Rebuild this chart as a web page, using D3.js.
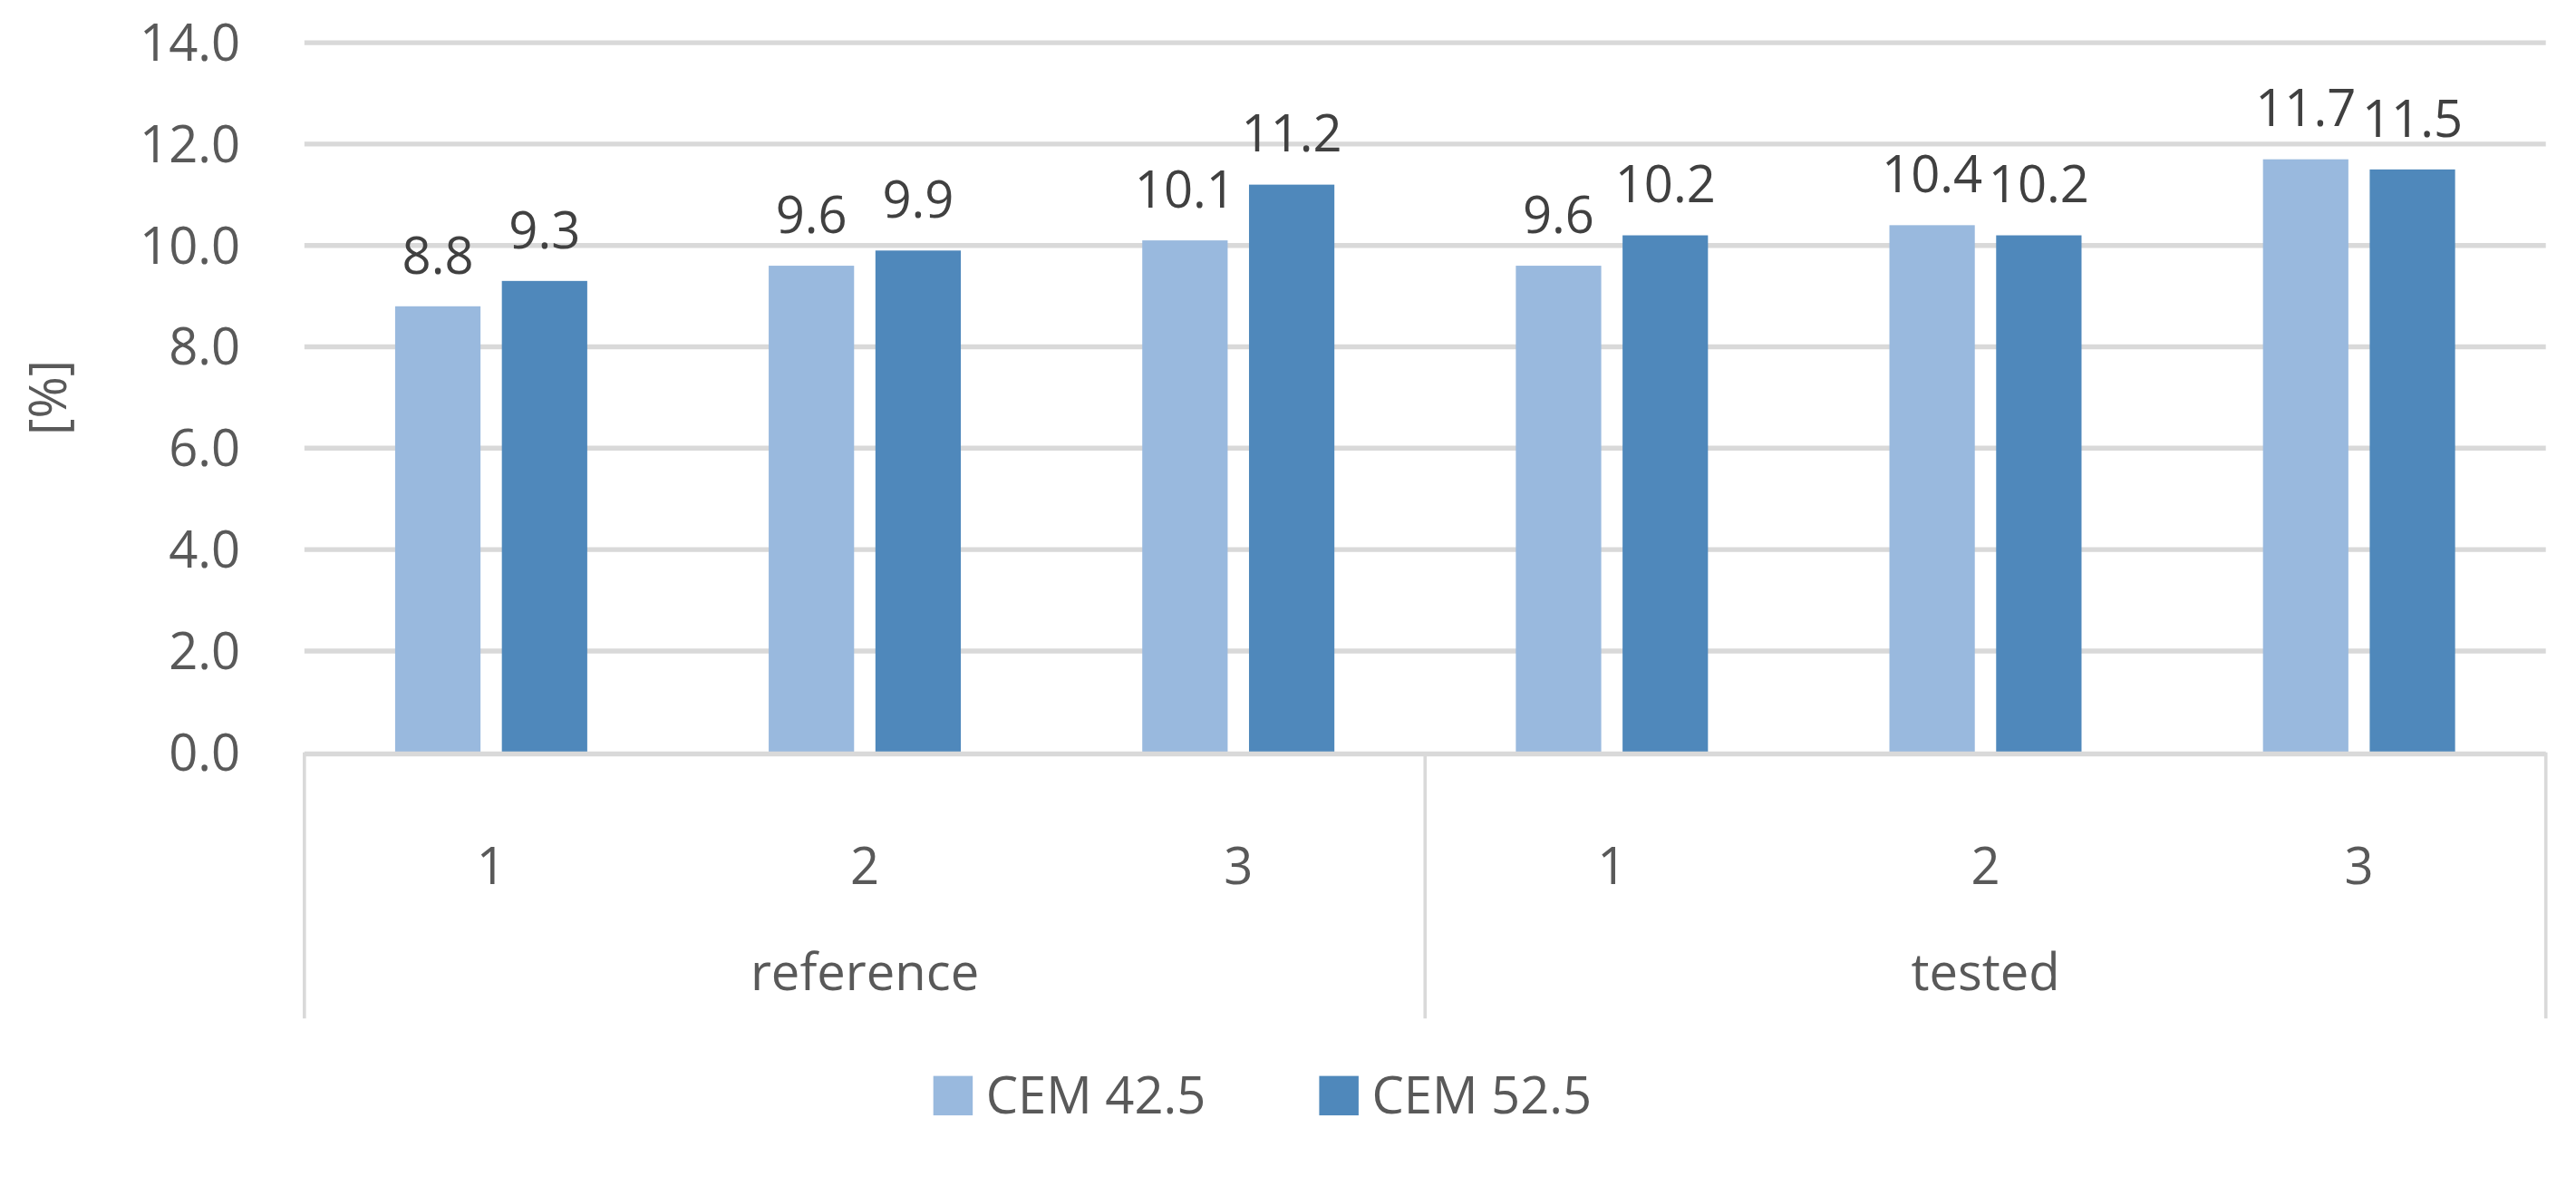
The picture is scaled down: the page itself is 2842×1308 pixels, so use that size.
<!DOCTYPE html>
<html>
<head>
<script src="https://d3js.org/d3.v7.min.js"></script>
<style>
  body { margin: 0; background: #fff; }
  text { font-family: "Liberation Sans Narrow", "Open Sans", sans-serif; }
</style>
</head>
<body>
<script>
var groups = ["reference", "tested"];
var samples = ["1", "2", "3"];
var series = ["CEM 42.5", "CEM 52.5"];
var cem425 = [8.8, 9.6, 10.1, 9.6, 10.4, 11.7];
var cem525 = [9.3, 9.9, 11.2, 10.2, 10.2, 11.5];
var yTicks = [0, 2, 4, 6, 8, 10, 12, 14];
var colors = ["#99b9de", "#4f88bb"];

// drawn in a 1568x722 frame, scaled to the window
var W = 1568, H = 722;
var svg = d3.select("body").append("svg")
    .attr("width", 2842).attr("height", 1308)
    .attr("viewBox", "0 0 " + W + " " + H);

var x0 = 185, x1 = 1550, yBase = 458;
var y = d3.scaleLinear().domain([0, 14]).range([yBase, 26]);

var cats = [];
groups.forEach(function(g) { samples.forEach(function(s) { cats.push(g + s); }); });
var x = d3.scaleBand().domain(cats).range([x0, x1]);

// gridlines
svg.selectAll(".grid").data(yTicks.slice(1)).enter().append("line")
    .attr("x1", x0).attr("x2", x1)
    .attr("y1", function(d) { return y(d); }).attr("y2", function(d) { return y(d); })
    .attr("stroke", "#d9d9d9").attr("stroke-width", 3);

svg.selectAll(".ytick").data(yTicks).enter().append("text")
    .attr("x", 146).attr("y", function(d) { return y(d) + 11; })
    .attr("text-anchor", "end").attr("font-size", 31).attr("fill", "#595959")
    .text(function(d) { return d.toFixed(1); });

svg.append("text").attr("transform", "translate(40,242) rotate(-90)")
    .attr("text-anchor", "middle").attr("font-size", 31).attr("fill", "#595959").text("[%]");

var bw = 52, gap = 13;
[cem425, cem525].forEach(function(vals, si) {
  svg.selectAll(".bar" + si).data(vals).enter().append("rect")
      .attr("x", function(d, i) { return x(cats[i]) + x.bandwidth() / 2 - bw - gap / 2 + si * (bw + gap); })
      .attr("y", function(d) { return y(d); })
      .attr("width", bw).attr("height", function(d) { return yBase - y(d); })
      .attr("fill", colors[si]);
  svg.selectAll(".lab" + si).data(vals).enter().append("text")
      .attr("x", function(d, i) { return x(cats[i]) + x.bandwidth() / 2 - bw / 2 - gap / 2 + si * (bw + gap); })
      .attr("y", function(d) { return y(d) - 20; })
      .attr("text-anchor", "middle").attr("font-size", 31).attr("fill", "#404040")
      .text(function(d) { return d.toFixed(1); });
});

// category axis
svg.append("line").attr("x1", x0).attr("x2", x1).attr("y1", yBase + 1).attr("y2", yBase + 1)
    .attr("stroke", "#d9d9d9").attr("stroke-width", 3);
[x0, (x0 + x1) / 2, x1].forEach(function(v) {
  svg.append("line").attr("x1", v).attr("x2", v).attr("y1", yBase).attr("y2", 620)
      .attr("stroke", "#d9d9d9").attr("stroke-width", 2);
});
svg.selectAll(".xcat").data(cats).enter().append("text")
    .attr("x", function(d) { return x(d) + x.bandwidth() / 2; }).attr("y", 538)
    .attr("text-anchor", "middle").attr("font-size", 31).attr("fill", "#595959")
    .text(function(d) { return d.slice(-1); });
svg.selectAll(".xgrp").data(groups).enter().append("text")
    .attr("x", function(d, i) { return x(cats[i * 3 + 1]) + x.bandwidth() / 2; }).attr("y", 603)
    .attr("text-anchor", "middle").attr("font-size", 31).attr("fill", "#595959")
    .text(function(d) { return d; });

// legend
var lx = [568, 803];
series.forEach(function(s, i) {
  svg.append("rect").attr("x", lx[i]).attr("y", 655).attr("width", 24).attr("height", 24).attr("fill", colors[i]);
  svg.append("text").attr("x", lx[i] + 32).attr("y", 678).attr("font-size", 31).attr("fill", "#595959").text(s);
});
</script>
</body>
</html>
